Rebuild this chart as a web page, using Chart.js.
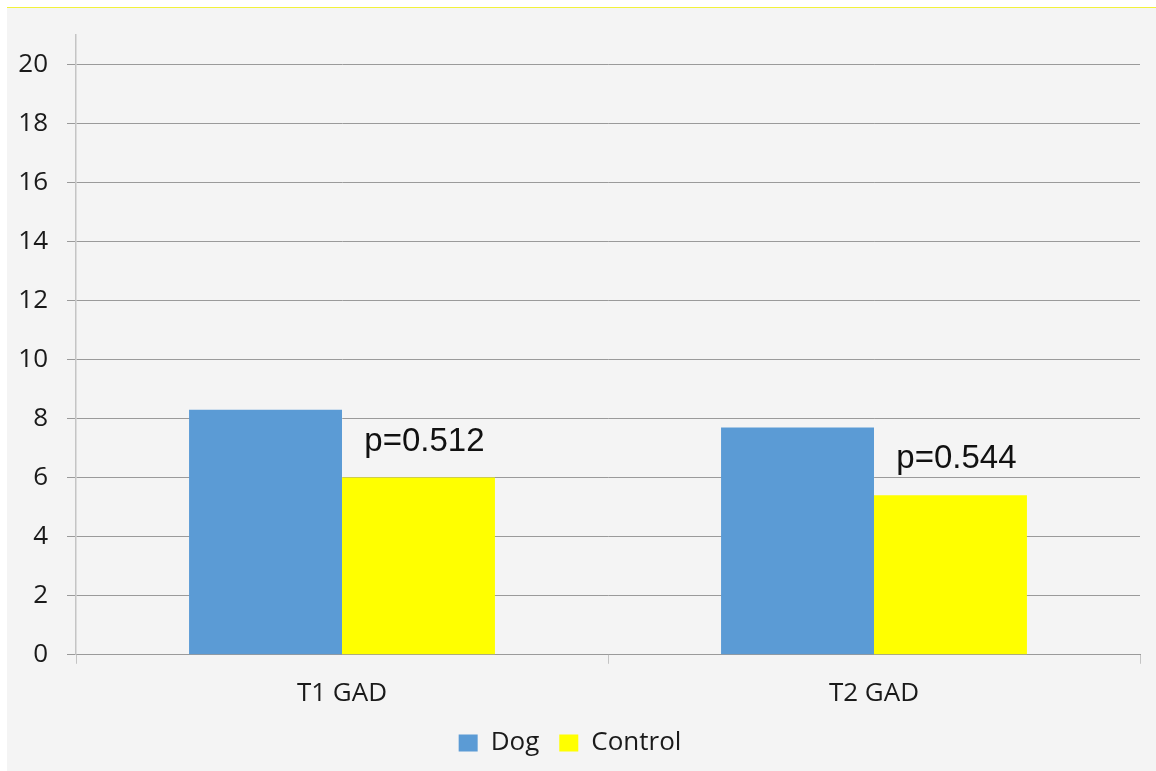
<!DOCTYPE html>
<html>
<head>
<meta charset="utf-8">
<script src="https://cdn.jsdelivr.net/npm/chart.js@4"></script>
<style>
    body { margin: 0; background: #ffffff; }
    #panel {
        position: absolute; left: 7px; top: 7px; width: 1149px; height: 763px;
        background: #f4f4f4; border-top: 1px solid #f2f23a;
    }
    #myChart { position: absolute; left: 0; top: 0; }
</style>
</head>
<body>
<div id="panel"></div>
<canvas id="myChart" width="1156" height="771"></canvas>
<script>
const categories = ['T1 GAD', 'T2 GAD'];
const dogValues = [8.3, 7.7];
const controlValues = [6.0, 5.4];
const pLabels = ['p=0.512', 'p=0.544'];

// writes the p-value above each Control bar
const pValuePlugin = {
    id: 'pValues',
    afterDatasetsDraw(chart) {
        const ctx = chart.ctx;
        const meta = chart.getDatasetMeta(1);
        ctx.save();
        ctx.font = '33px "Liberation Sans", Arial, sans-serif';
        ctx.fillStyle = '#111111';
        ctx.textAlign = 'center';
        ctx.textBaseline = 'alphabetic';
        meta.data.forEach(function(bar, i) {
            ctx.fillText(pLabels[i], bar.x + 6, bar.y - 27);
        });
        ctx.restore();
    }
};

document.addEventListener('DOMContentLoaded', function() {
    const tickFont = { family: '"Open Sans", sans-serif', size: 26 };

    const data = {
        labels: categories,
        datasets: [{
            label: 'Dog',
            data: dogValues,
            backgroundColor: '#5b9bd5'
        }, {
            label: 'Control',
            data: controlValues,
            backgroundColor: '#ffff00'
        }]
    };

    const config = {
        type: 'bar',
        data: data,
        options: {
            responsive: false,
            animation: false,
            layout: { padding: { top: 33, right: 16, left: 0, bottom: 5 } },
            datasets: {
                bar: { barPercentage: 1.0, categoryPercentage: 0.575 }
            },
            scales: {
                x: {
                    afterFit: function(scale) { scale.height = scale.height - 13; },
                    grid: {
                        offset: true,
                        drawOnChartArea: false,
                        tickLength: 9,
                        color: '#c4c4c4'
                    },
                    border: { display: true, color: '#9a9a9a' },
                    ticks: { font: tickFont, color: '#1a1a1a', padding: 14 }
                },
                y: {
                    min: 0,
                    max: 21,
                    afterFit: function(scale) { scale.width = 76; },
                    grid: { color: '#9a9a9a', tickLength: 9 },
                    border: { display: true, color: '#c4c4c4', width: 1.5 },
                    ticks: {
                        stepSize: 2,
                        includeBounds: false,
                        font: tickFont,
                        color: '#1a1a1a',
                        padding: 19
                    }
                }
            },
            plugins: {
                legend: {
                    position: 'bottom',
                    labels: {
                        boxWidth: 19,
                        boxHeight: 17,
                        padding: 20,
                        color: '#1a1a1a',
                        font: tickFont
                    }
                },
                tooltip: { enabled: false }
            }
        },
        plugins: [pValuePlugin]
    };

    const ctx = document.getElementById('myChart').getContext('2d');
    new Chart(ctx, config);
});
</script>
</body>
</html>
